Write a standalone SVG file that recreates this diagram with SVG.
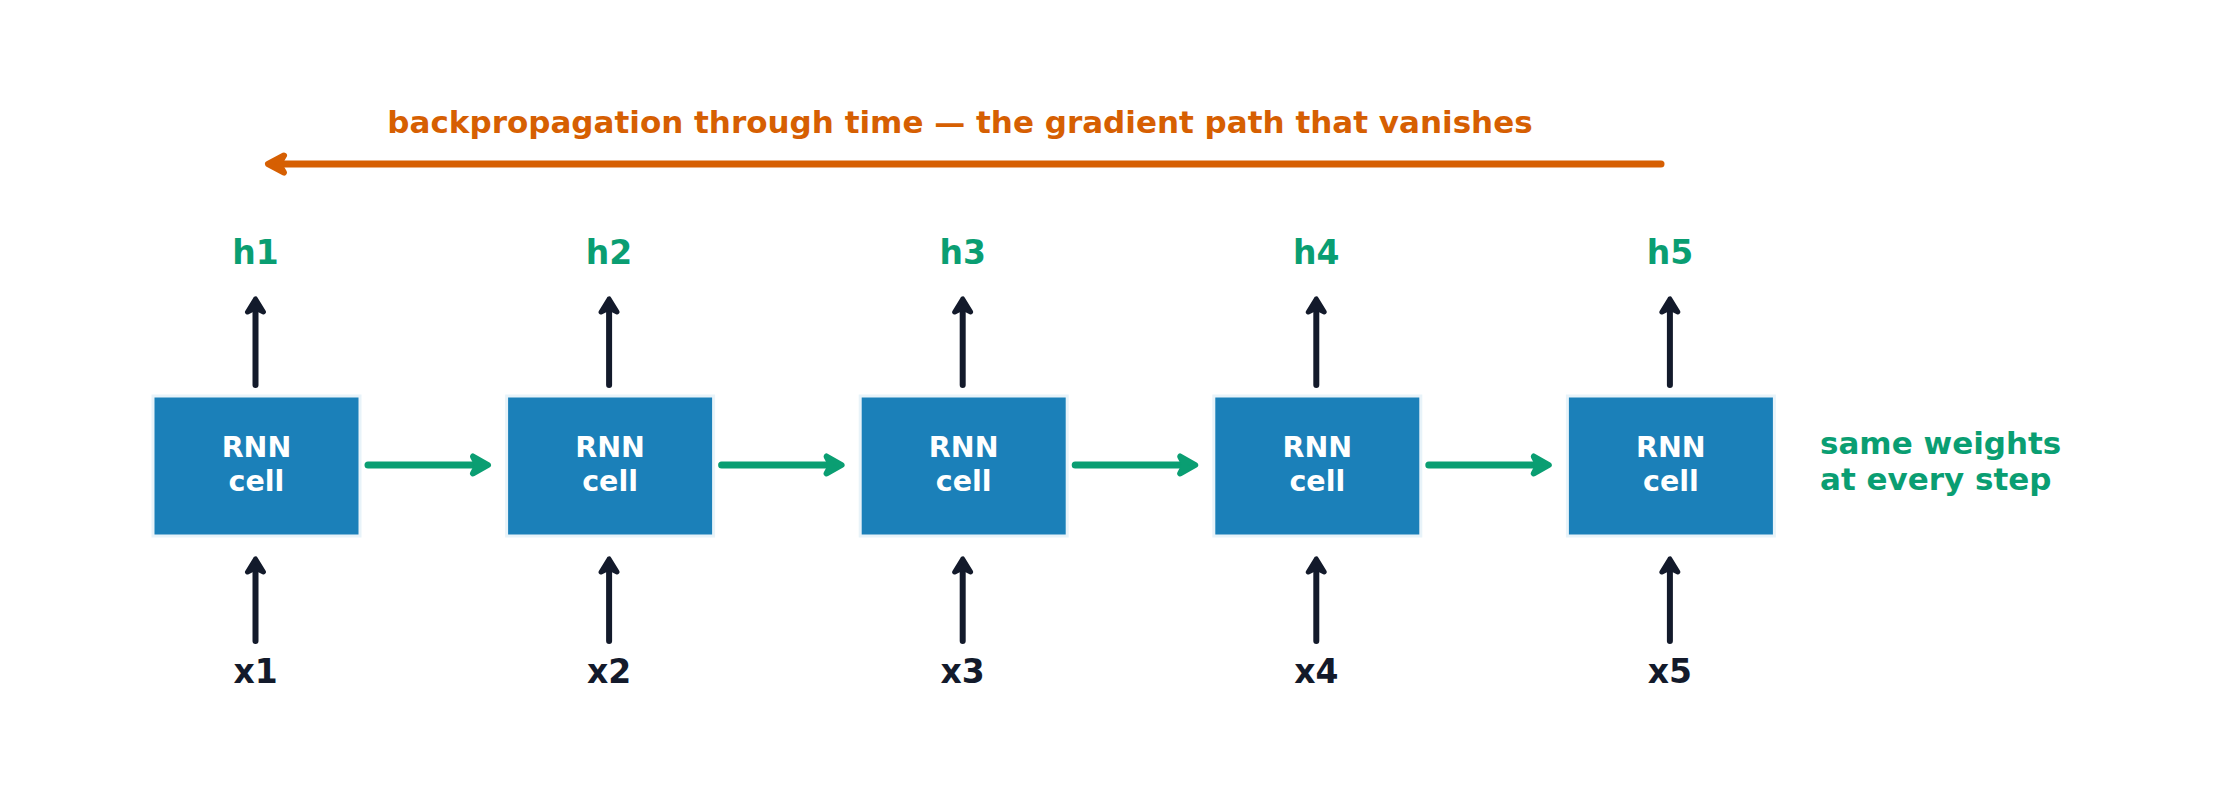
<svg xmlns="http://www.w3.org/2000/svg" width="2222" height="802" viewBox="0 0 2222 802">
<style>
text{font-family:"DejaVu Sans","Liberation Sans",sans-serif;font-weight:bold}
.box{fill:#1b80b9;stroke:#e8f3f9;stroke-width:3}
.cell{fill:#ffffff;font-size:28.5px;text-anchor:middle}
.h{fill:#0a9e72;font-size:33px;text-anchor:middle}
.x{fill:#131a2b;font-size:33px;text-anchor:middle}
.note{fill:#0a9e72;font-size:31px}
.title{fill:#d65f02;font-size:31px;text-anchor:middle}
.g{stroke:#0a9e72;stroke-width:7;fill:none;stroke-linecap:round}
.d{stroke:#131a2b;stroke-width:6;fill:none;stroke-linecap:round}
.o{stroke:#d65f02;stroke-width:7;fill:none;stroke-linecap:round}
</style>
<defs>
<marker id="mg" markerUnits="userSpaceOnUse" markerWidth="40" markerHeight="40" viewBox="-20 -20 40 40" refX="0" refY="0" orient="auto" overflow="visible">
<polygon points="5,0 -10,-8.5 -5.5,0 -10,8.5" fill="#0a9e72" stroke="#0a9e72" stroke-width="6" stroke-linejoin="round"/>
</marker>
<marker id="md" markerUnits="userSpaceOnUse" markerWidth="40" markerHeight="40" viewBox="-20 -20 40 40" refX="0" refY="0" orient="auto" overflow="visible">
<polygon points="5,0 -8,-8 -4,0 -8,8" fill="#131a2b" stroke="#131a2b" stroke-width="5" stroke-linejoin="round"/>
</marker>
<marker id="mo" markerUnits="userSpaceOnUse" markerWidth="40" markerHeight="40" viewBox="-20 -20 40 40" refX="0" refY="0" orient="auto" overflow="visible">
<polygon points="5,0 -11,-8.5 -6,0 -11,8.5" fill="#d65f02" stroke="#d65f02" stroke-width="6" stroke-linejoin="round"/>
</marker>
</defs>
<rect width="2222" height="802" fill="#ffffff"/>
<g id="title">
<text class="title" x="960" y="133">backpropagation through time — the gradient path that vanishes</text>
</g>
<g id="cell1"><rect class="box" x="153" y="396" width="207" height="140"/><text class="cell" x="256.5" y="457">RNN</text><text class="cell" x="256.5" y="491">cell</text></g>
<g id="cell2"><rect class="box" x="506.6" y="396" width="207" height="140"/><text class="cell" x="610.1" y="457">RNN</text><text class="cell" x="610.1" y="491">cell</text></g>
<g id="cell3"><rect class="box" x="860.2" y="396" width="207" height="140"/><text class="cell" x="963.7" y="457">RNN</text><text class="cell" x="963.7" y="491">cell</text></g>
<g id="cell4"><rect class="box" x="1213.8" y="396" width="207" height="140"/><text class="cell" x="1317.3" y="457">RNN</text><text class="cell" x="1317.3" y="491">cell</text></g>
<g id="cell5"><rect class="box" x="1567.4" y="396" width="207" height="140"/><text class="cell" x="1670.9" y="457">RNN</text><text class="cell" x="1670.9" y="491">cell</text></g>
<g id="h-labels">
<text class="h" x="255.5" y="264">h1</text>
<text class="h" x="609.1" y="264">h2</text>
<text class="h" x="962.7" y="264">h3</text>
<text class="h" x="1316.3" y="264">h4</text>
<text class="h" x="1669.9" y="264">h5</text>
</g>
<g id="x-labels">
<text class="x" x="255.5" y="683">x1</text>
<text class="x" x="609.1" y="683">x2</text>
<text class="x" x="962.7" y="683">x3</text>
<text class="x" x="1316.3" y="683">x4</text>
<text class="x" x="1669.9" y="683">x5</text>
</g>
<g id="note">
<text class="note" x="1820" y="454">same weights</text>
<text class="note" x="1820" y="490">at every step</text>
</g>
<g id="connectors">
<line class="o" x1="1661" y1="164" x2="273" y2="164" marker-end="url(#mo)"/>
<line class="g" x1="368" y1="465" x2="483" y2="465" marker-end="url(#mg)"/>
<line class="g" x1="721.6" y1="465" x2="836.6" y2="465" marker-end="url(#mg)"/>
<line class="g" x1="1075.2" y1="465" x2="1190.2" y2="465" marker-end="url(#mg)"/>
<line class="g" x1="1428.8" y1="465" x2="1543.8" y2="465" marker-end="url(#mg)"/>
<line class="d" x1="255.5" y1="385" x2="255.5" y2="304" marker-end="url(#md)"/>
<line class="d" x1="609.1" y1="385" x2="609.1" y2="304" marker-end="url(#md)"/>
<line class="d" x1="962.7" y1="385" x2="962.7" y2="304" marker-end="url(#md)"/>
<line class="d" x1="1316.3" y1="385" x2="1316.3" y2="304" marker-end="url(#md)"/>
<line class="d" x1="1669.9" y1="385" x2="1669.9" y2="304" marker-end="url(#md)"/>
<line class="d" x1="255.5" y1="641" x2="255.5" y2="564" marker-end="url(#md)"/>
<line class="d" x1="609.1" y1="641" x2="609.1" y2="564" marker-end="url(#md)"/>
<line class="d" x1="962.7" y1="641" x2="962.7" y2="564" marker-end="url(#md)"/>
<line class="d" x1="1316.3" y1="641" x2="1316.3" y2="564" marker-end="url(#md)"/>
<line class="d" x1="1669.9" y1="641" x2="1669.9" y2="564" marker-end="url(#md)"/>
</g>
</svg>
